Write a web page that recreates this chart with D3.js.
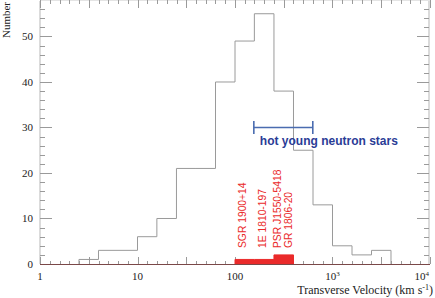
<!DOCTYPE html>
<html>
<head>
<meta charset="utf-8">
<script src="https://cdn.jsdelivr.net/npm/d3@7"></script>
<style>
  html, body { margin: 0; padding: 0; background: #fff; }
  svg { display: block; }
</style>
</head>
<body>
<div id="chart"></div>
<script>
// bin edges of the velocity histogram (km/s)
const binEdges = [2.51, 3.98, 6.31, 10, 15.8, 25.1, 39.8, 63.1, 100, 158, 251, 398, 631, 1000, 1585, 2512, 3981];
// all pulsars, counts per bin
const allCounts = [1, 3, 3, 6, 10, 21, 21, 40, 49, 55, 38, 25, 13, 4, 2, 3];
// magnetars, counts per bin (bins 100-158, 158-251, 251-398)
const magEdges = [100, 158, 251, 398];
const magCounts = [1, 1, 2];
// magnetar names and where their labels sit
const magNames = ['SGR 1900+14', '1E 1810-197', 'PSR J1550-5418', 'GR 1806-20'];
const magLabelV = [129, 206, 298, 386];
// hot young neutron stars range
const hotRange = [156, 628];
const hotLevel = 30;

const xTickLabels = [
  { v: 1, t: '1' }, { v: 10, t: '10' }, { v: 100, t: '100' },
  { v: 1000, t: '10', sup: '3' }, { v: 10000, t: '10', sup: '4' }
];
const yMajor = [0, 10, 20, 30, 40, 50];

const W = 435, H = 298;
const m = { left: 40, right: 5, top: 1, bottom: 34 };

const svg = d3.select('#chart').append('svg')
  .attr('width', W).attr('height', H);

const x = d3.scaleLog().domain([1, 10000]).range([m.left, W - m.right]);
const y = d3.scaleLinear().domain([0, 57.8]).range([H - m.bottom, m.top]);

const x0 = x.range()[0], x1 = x.range()[1];
const y0 = y.range()[0], y1 = y.range()[1];

// frame lines
svg.append('line').attr('x1', x0).attr('x2', x0).attr('y1', y1).attr('y2', y0)
  .attr('stroke', '#d2d2d2').attr('stroke-width', 1.6);
svg.append('line').attr('x1', x1 - 1).attr('x2', x1 - 1).attr('y1', y1).attr('y2', y0)
  .attr('stroke', '#d2d2d2').attr('stroke-width', 1.6);
svg.append('line').attr('x1', x0).attr('x2', x1).attr('y1', 0.5).attr('y2', 0.5)
  .attr('stroke', '#e4e4e4').attr('stroke-width', 1);

// y ticks, left and right
const yTicks = d3.range(0, 57, 2);
yTicks.forEach(v => {
  const len = v % 10 === 0 ? 12 : 5;
  const yy = Math.round(y(v)) + 0.5;
  svg.append('line').attr('x1', x0).attr('x2', x0 + len).attr('y1', yy).attr('y2', yy)
    .attr('stroke', '#9a9a9a');
  svg.append('line').attr('x1', x1 - 1).attr('x2', x1 - 1 - len).attr('y1', yy).attr('y2', yy)
    .attr('stroke', '#9a9a9a');
});

// x ticks top and bottom (every 0.1 dex, every 5th longer)
const xTicks = d3.range(0, 41).map(k => Math.pow(10, k / 10));
xTicks.forEach((v, k) => {
  const xx = Math.round(x(v)) + 0.5;
  const big = k % 5 === 0;
  svg.append('line').attr('x1', xx).attr('x2', xx).attr('y1', 0).attr('y2', big ? 8 : 4)
    .attr('stroke', '#9a9a9a');
  svg.append('line').attr('x1', xx).attr('x2', xx).attr('y1', y0).attr('y2', y0 - (big ? 7 : 3))
    .attr('stroke', '#9a9a9a');
});

// histogram outline
const histPts = [[binEdges[0], 0]];
allCounts.forEach((c, i) => {
  histPts.push([binEdges[i], c]);
  histPts.push([binEdges[i + 1], c]);
});
histPts.push([binEdges[binEdges.length - 1], 0]);

const line = d3.line().x(d => x(d[0])).y(d => y(d[1]));
svg.append('path').attr('d', line(histPts))
  .attr('fill', 'none').attr('stroke', '#9a9a9a').attr('stroke-width', 1);

// magnetar histogram, filled red
const magPts = [[magEdges[0], 0]];
magCounts.forEach((c, i) => {
  magPts.push([magEdges[i], c]);
  magPts.push([magEdges[i + 1], c]);
});
magPts.push([magEdges[magEdges.length - 1], 0]);
svg.append('path').attr('d', line(magPts))
  .attr('fill', '#ea2a2a').attr('stroke', '#ea2a2a').attr('stroke-width', 1);

// bottom axis line
svg.append('line').attr('x1', x0).attr('x2', x1).attr('y1', y0 + 0.5).attr('y2', y0 + 0.5)
  .attr('stroke', '#7a4848').attr('stroke-width', 1);

// magnetar labels
magNames.forEach((n, i) => {
  const xx = x(magLabelV[i]);
  svg.append('text')
    .attr('transform', `translate(${xx},248) rotate(-90)`)
    .attr('font-family', 'Liberation Sans, Arial, sans-serif')
    .attr('font-size', 10.3)
    .attr('fill', '#ea2a2a')
    .text(n);
});

// hot young neutron stars bar
const hy = y(hotLevel);
svg.append('line').attr('x1', x(hotRange[0])).attr('x2', x(hotRange[1]))
  .attr('y1', hy).attr('y2', hy).attr('stroke', '#4a6cb0').attr('stroke-width', 1.6);
hotRange.forEach(v => {
  svg.append('line').attr('x1', x(v)).attr('x2', x(v))
    .attr('y1', hy - 6.5).attr('y2', hy + 6.5).attr('stroke', '#4a6cb0').attr('stroke-width', 1.6);
});
svg.append('text')
  .attr('x', x(hotRange[0]) + 6).attr('y', hy + 17.5)
  .attr('font-family', 'Liberation Sans, Arial, sans-serif')
  .attr('font-weight', 'bold')
  .attr('font-size', 12)
  .attr('fill', '#2a3c96')
  .text('hot young neutron stars');

// y tick labels
const serif = 'Liberation Serif, Times New Roman, serif';
yMajor.forEach(v => {
  svg.append('text').attr('x', 33).attr('y', y(v) + 4)
    .attr('text-anchor', 'end')
    .attr('font-family', serif).attr('font-size', 11)
    .attr('fill', '#222').text(v);
});

// x tick labels
xTickLabels.forEach((d, i) => {
  const last = i === xTickLabels.length - 1;
  const t = svg.append('text')
    .attr('x', last ? x(d.v) - 1 : x(d.v))
    .attr('y', 280)
    .attr('text-anchor', last ? 'end' : 'middle')
    .attr('font-family', serif).attr('font-size', 11)
    .attr('fill', '#222');
  t.append('tspan').text(d.t);
  if (d.sup) t.append('tspan').attr('dy', -4).attr('font-size', 7).text(d.sup);
});

// axis titles
svg.append('text')
  .attr('transform', 'translate(9.5,2) rotate(-90)')
  .attr('text-anchor', 'end')
  .attr('font-family', serif).attr('font-size', 11)
  .attr('fill', '#222').text('Number');

const xt = svg.append('text')
  .attr('x', 433).attr('y', 294)
  .attr('text-anchor', 'end')
  .attr('font-family', serif).attr('font-size', 12)
  .attr('fill', '#222');
xt.append('tspan').text('Transverse Velocity (km s');
xt.append('tspan').attr('dy', -4).attr('font-size', 8).text('-1');
xt.append('tspan').attr('dy', 4).text(')');
</script>
</body>
</html>
